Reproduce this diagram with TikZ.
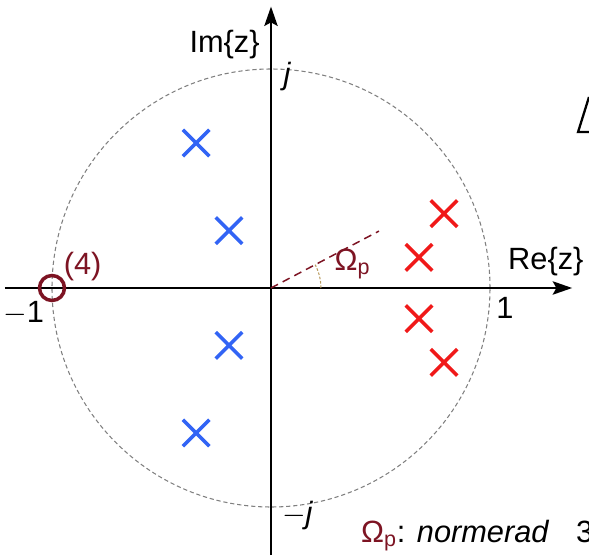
\documentclass[tikz,border=0pt]{standalone}
\usepackage{fontspec}
\setmainfont{Liberation Sans}
\usepackage{xcolor}
\usepackage{tikz}
\usetikzlibrary{
    arrows.meta,
    calc,
    shapes.misc
}
\definecolor{poleblue}{RGB}{50,100,245}
\definecolor{polered}{RGB}{240,25,25}
\definecolor{zerored}{RGB}{125,20,35}
\definecolor{arcgold}{RGB}{185,155,95}
\tikzset
{
  axis/.style={draw=black,line width=1.6pt,-{Stealth[length=11pt,width=7.5pt,inset=2pt]}},
  unitcircle/.style={draw=gray,line width=0.6pt,dash pattern=on 2.4pt off 1.6pt},
  pole/.style={cross out,draw,line width=2pt,minimum size=0.46cm,inner sep=0pt},
  zero/.style={circle,draw=zerored,line width=2pt,minimum size=0.5cm,inner sep=0pt},
  lbl/.style={font=\fontsize{17.5}{20}\selectfont,inner sep=0pt}
}
\begin{document}
\begin{tikzpicture}[scale=4.38]

    \useasboundingbox (-1.2374,-1.2237) rectangle (1.452,1.315);

    % Define the cut-off angle
    \pgfmathsetmacro{\wp}{27.8}

    % Draw the unit circle
    \draw[unitcircle] (0,0) circle (1);

    % Draw the axes
    \coordinate (xs) at (-1.215,0);
    \coordinate (xe) at (1.375,0);
    \coordinate (ys) at (0,-1.219);
    \coordinate (ye) at (0,1.285);
    \draw[axis] (xs) -- (xe);
    \draw[axis] (ys) -- (ye);
    \node[lbl] (re) at (1.255,0.12) {Re\{z\}};
    \node[lbl] (im) at (-0.212,1.112) {Im\{z\}};
    \node[lbl] (one) at (1.068,-0.09) {1};
    \node[lbl] (mone) at (-1.13,-0.115) {$-$1};
    \node[lbl] (jj) at (0.073,0.965) {\itshape j};
    \node[lbl] (mj) at (0.12,-1.04) {$-$\itshape j};

    % Draw the angle of the passband edge
    \coordinate (o) at (0,0);
    \coordinate (ray) at (\wp:0.557);
    \draw[zerored,line width=0.85pt,dash pattern=on 4.5pt off 3pt] (o) -- (ray);
    \draw[arcgold,line width=0.6pt,dash pattern=on 1.5pt off 1pt] (0.228,0) arc (0:\wp:0.228);
    \node[lbl,zerored] (wlab) at (0.372,0.11) {Ω\textsubscript{p}};

    % Zero of order 4 at z = -1
    \node[zero] (z0) at (-1,0) {};
    \node[lbl,zerored] (mult) at (-0.86,0.10) {(4)};

    % Poles of the filter
    \node[pole,poleblue] (b1) at (-0.342,0.662) {};
    \node[pole,poleblue] (b2) at (-0.192,0.262) {};
    \node[pole,poleblue] (b3) at (-0.192,-0.262) {};
    \node[pole,poleblue] (b4) at (-0.342,-0.662) {};
    \node[pole,polered] (r1) at (0.79,0.34) {};
    \node[pole,polered] (r2) at (0.676,0.14) {};
    \node[pole,polered] (r3) at (0.676,-0.14) {};
    \node[pole,polered] (r4) at (0.79,-0.34) {};

    % Text at the bottom, cut off by the margin
    \node[lbl,anchor=base west] (note) at (0.41,-1.16)
        {\textcolor{zerored}{Ω\textsubscript{p}}: \itshape normerad\upshape\hspace{0.9em}3};

    % Cut-off mark at the right margin
    \draw[line width=1.3pt] (1.452,0.872) -- (1.402,0.712) -- (1.452,0.712);

    \end{tikzpicture}
\end{document}
